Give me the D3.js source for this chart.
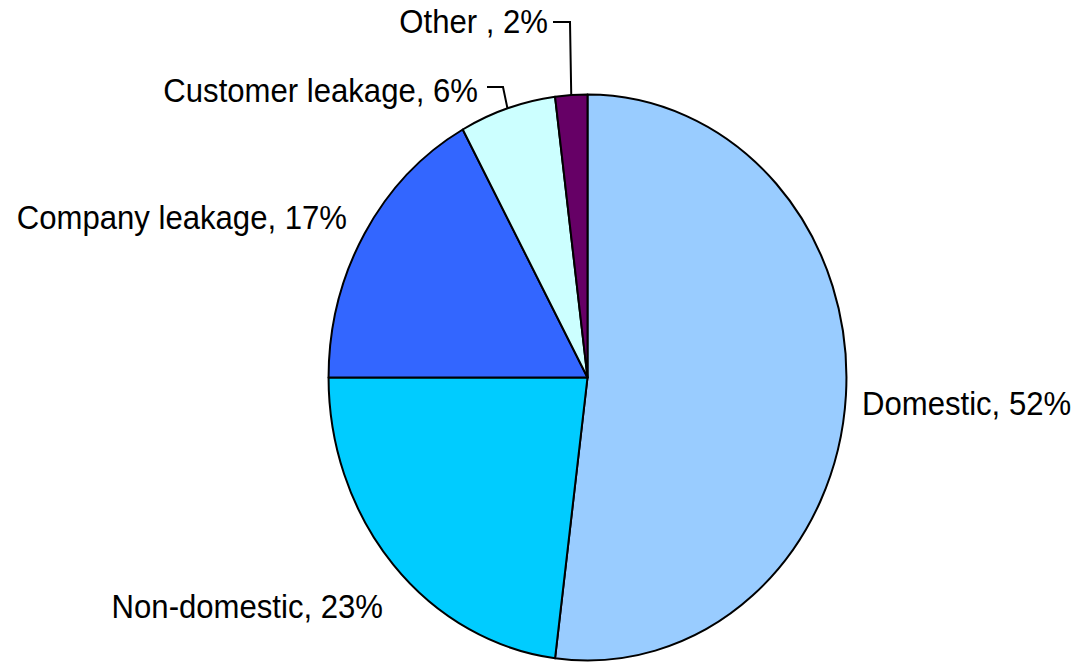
<!DOCTYPE html>
<html><head><meta charset="utf-8">
<script src="https://cdn.jsdelivr.net/npm/d3@7"></script>
<style>html,body{margin:0;padding:0;background:#fff;}svg{display:block;}</style>
</head><body>
<svg id="chart" width="1086" height="662"></svg>
<script>
const categories = ["Domestic", "Non-domestic", "Company leakage", "Customer leakage", "Other "];
const values = [52, 23, 17, 6, 2];
const colors = ["#99CCFF", "#00CCFF", "#3366FF", "#CCFFFF", "#660066"];

const sx = 0.915;           // horizontal squeeze of the original chart
const R = 283;
const cx = 587.5 / sx, cy = 377.5;

const svg = d3.select("#chart");
const g = svg.append("g").attr("transform", `scale(${sx},1)`);

const data = categories.map((c, i) => ({ name: c, value: values[i], color: colors[i] }));
const pie = d3.pie().value(d => d.value).sort(null);
const arc = d3.arc().innerRadius(0).outerRadius(R);
const arcs = pie(data);

const pg = g.append("g").attr("transform", `translate(${cx},${cy})`);
pg.selectAll("path").data(arcs).enter().append("path")
  .attr("d", arc)
  .attr("fill", d => d.data.color)
  .attr("stroke", "#000")
  .attr("stroke-width", 2)
  .attr("stroke-linejoin", "round")
  .attr("vector-effect", "non-scaling-stroke");

// label placement (pixel positions, in unscaled page coords)
const labelPos = {
  "Domestic": { x: 862, y: 415, anchor: "start" },
  "Non-domestic": { x: 383, y: 618, anchor: "end" },
  "Company leakage": { x: 347, y: 229, anchor: "end" },
  "Customer leakage": { x: 478, y: 102, anchor: "end" },
  "Other ": { x: 548, y: 33, anchor: "end" }
};
const fmt = d => `${d.data.name}, ${d.data.value}%`;

g.selectAll("text.lbl").data(arcs).enter().append("text")
  .attr("class", "lbl")
  .attr("x", d => labelPos[d.data.name].x / sx)
  .attr("y", d => labelPos[d.data.name].y)
  .attr("text-anchor", d => labelPos[d.data.name].anchor)
  .attr("font-family", "Liberation Sans, Arial, sans-serif")
  .attr("font-size", 34)
  .attr("fill", "#000")
  .text(fmt);

// leader lines for the two small slices, ending on the slice's outer edge
function edgePoint(d, frac) {
  const a = d.startAngle + (d.endAngle - d.startAngle) * frac;
  return [cx + R * Math.sin(a), cy - R * Math.cos(a)];
}
const leaders = [
  { name: "Customer leakage", pts: [[487, 87], [503, 87]], frac: 0.5 },
  { name: "Other ", pts: [[553, 22], [570, 22]], frac: 0.5 }
];
leaders.forEach(l => {
  const d = arcs.find(a => a.data.name === l.name);
  const e = edgePoint(d, l.frac);
  const pts = l.pts.map(p => [p[0] / sx, p[1]]).concat([e]);
  g.append("path")
    .attr("d", d3.line()(pts))
    .attr("fill", "none")
    .attr("stroke", "#000")
    .attr("stroke-width", 2)
    .attr("vector-effect", "non-scaling-stroke");
});
</script>
</body></html>
